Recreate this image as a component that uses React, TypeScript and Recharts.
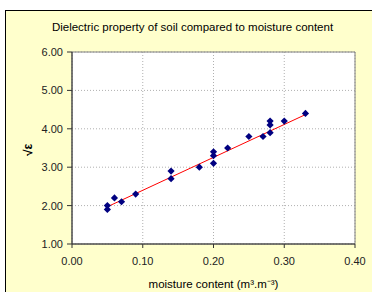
import {
  ScatterChart,
  Scatter,
  XAxis,
  YAxis,
  CartesianGrid,
  ReferenceArea,
} from "recharts";

// measured points (moisture content vs sqrt of permittivity)
const moisture = [0.05, 0.05, 0.06, 0.07, 0.09, 0.14, 0.14, 0.18, 0.2, 0.2, 0.2, 0.22, 0.25, 0.27, 0.28, 0.28, 0.28, 0.3, 0.33];
const sqrtEps = [2.0, 1.9, 2.2, 2.1, 2.3, 2.9, 2.7, 3.0, 3.4, 3.3, 3.1, 3.5, 3.8, 3.8, 4.2, 4.1, 3.9, 4.2, 4.4];

// linear trendline end points as drawn
const trendX = [0.05, 0.33];
const trendY = [1.97, 4.37];

const xTicks = [0, 0.1, 0.2, 0.3, 0.4];
const yTicks = [1, 2, 3, 4, 5, 6];

const points = moisture.map((x, i) => ({ x, y: sqrtEps[i] }));
const trend = trendX.map((x, i) => ({ x, y: trendY[i] }));

const font = "'Liberation Sans', Arial, sans-serif";

function Diamond(props: any) {
  const { cx, cy } = props;
  if (cx == null || cy == null) return null;
  const r = 3.6;
  return (
    <polygon
      points={`${cx},${cy - r} ${cx + r},${cy} ${cx},${cy + r} ${cx - r},${cy}`}
      fill="#000080"
    />
  );
}

export default function App() {
  return (
    <div
      style={{
        position: "fixed",
        left: 0,
        top: 0,
        width: 372,
        height: 292,
        background: "#ffffff",
        overflow: "hidden",
        fontFamily: font,
      }}
    >
      <div
        style={{
          position: "absolute",
          left: 5,
          top: 10,
          width: 380,
          height: 300,
          background: "#ffffcc",
          border: "1px solid #000",
        }}
      />
      <div
        style={{
          position: "absolute",
          left: 0,
          top: 21,
          width: 385,
          textAlign: "center",
          fontSize: 11.5,
          color: "#000",
        }}
      >
        Dielectric property of soil compared to moisture content
      </div>
      <div style={{ position: "absolute", left: 0, top: 0 }}>
        <ScatterChart
          width={372}
          height={292}
          margin={{ top: 52, right: 17, bottom: 0, left: 0 }}
        >
          <CartesianGrid
            stroke="#b0b0b0"
            strokeDasharray="1 2"
            fill="#ffffff"
            horizontalValues={yTicks}
            verticalValues={xTicks}
          />
          <ReferenceArea
            x1={0}
            x2={0.4}
            y1={1}
            y2={6}
            fill="none"
            stroke="#808080"
            strokeWidth={1}
            ifOverflow="visible"
          />
          <XAxis
            type="number"
            dataKey="x"
            domain={[0, 0.4]}
            ticks={xTicks}
            height={48}
            tickSize={4}
            tickMargin={9}
            stroke="#333"
            tick={{ fontSize: 11, fill: "#222", fontFamily: font }}
            tickFormatter={(v: number) => v.toFixed(2)}
            label={{
              value: "moisture content (m³.m⁻³)",
              position: "insideBottom",
              offset: 4,
              fontSize: 11.5,
              fill: "#000",
              fontFamily: font,
            }}
          />
          <YAxis
            type="number"
            dataKey="y"
            domain={[1, 6]}
            ticks={yTicks}
            width={72}
            tickSize={5}
            tickMargin={4}
            stroke="#333"
            tick={{ fontSize: 11, fill: "#222", fontFamily: font }}
            tickFormatter={(v: number) => v.toFixed(2)}
            label={{
              value: "√ε",
              angle: -90,
              position: "insideLeft",
              offset: 28,
              dx: 0,
              dy: 8,
              fontSize: 12,
              fontWeight: "bold",
              fill: "#000",
              fontFamily: font,
            }}
          />
          <Scatter
            data={trend}
            line={{ stroke: "#ff0000", strokeWidth: 1 }}
            shape={() => null}
            isAnimationActive={false}
          />
          <Scatter data={points} shape={Diamond} isAnimationActive={false} />
        </ScatterChart>
      </div>
    </div>
  );
}
